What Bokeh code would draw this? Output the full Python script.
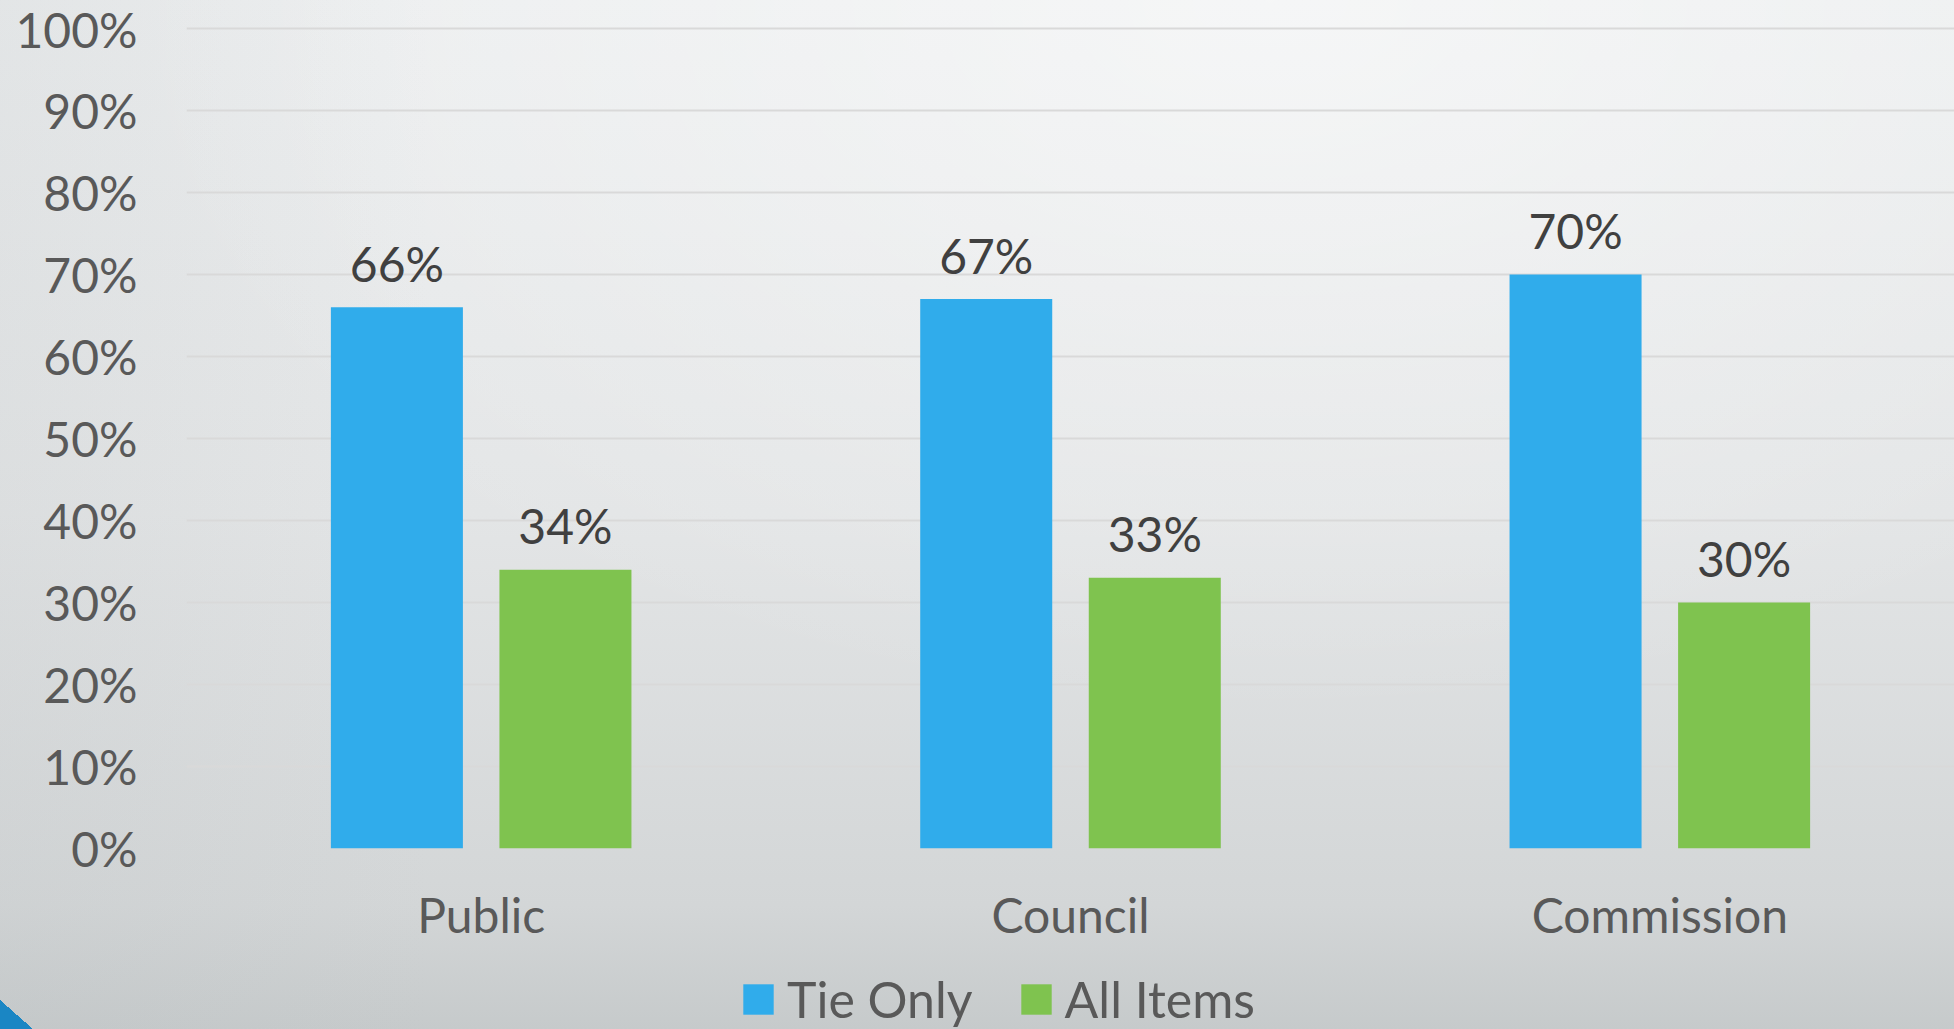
from bokeh.plotting import figure
from bokeh.layouts import column
from bokeh.models import (ColumnDataSource, FactorRange, Range1d, NumeralTickFormatter,
                          FixedTicker, Legend, LegendItem)
from bokeh.transform import dodge
from bokeh.core.properties import value
from bokeh.embed import file_html
from bokeh.resources import INLINE

# ---- data ----
categories = ["Public", "Council", "Commission"]
tie_only = [0.66, 0.67, 0.70]
all_items = [0.34, 0.33, 0.30]
series_names = ["Tie Only", "All Items"]
y_ticks = [0.0, 0.1, 0.2, 0.3, 0.4, 0.5, 0.6, 0.7, 0.8, 0.9, 1.0]

BLUE = "#30ACEB"
GREEN = "#7FC34F"
FONT = "Lato"

src = ColumnDataSource(dict(
    cat=categories,
    tie=tie_only,
    allv=all_items,
    tie_lbl=[f"{round(v * 100)}%" for v in tie_only],
    all_lbl=[f"{round(v * 100)}%" for v in all_items],
))

bg = ("linear-gradient(to top right, #1a86c4 50%, rgba(26,134,196,0) 50%) 0 100% / 33px 29px no-repeat, "
      "linear-gradient(to right, rgba(185,190,192,0.18) 0%, rgba(185,190,192,0) 22%), "
      "radial-gradient(ellipse 60% 70% at 65% 0%, rgba(255,255,255,0.5) 0%, rgba(255,255,255,0) 100%), "
      "linear-gradient(to bottom, #eceeef 0%, #e3e5e6 50%, #d3d6d7 88%, #c6cacb 100%)")

p = figure(x_range=FactorRange(factors=categories), y_range=Range1d(0, 1.034),
           width=1954, height=969, output_backend="svg", toolbar_location=None,
           min_border_left=186, min_border_right=0, min_border_top=0, min_border_bottom=121)
p.border_fill_color = None
p.background_fill_color = None
p.outline_line_color = None

# axes
p.xaxis.axis_line_color = None
p.xaxis.major_tick_line_color = None
p.xaxis.minor_tick_line_color = None
p.xaxis.major_label_text_font = FONT
p.xaxis.major_label_text_font_size = "48px"
p.xaxis.major_label_text_color = "#595959"
p.xaxis.major_label_standoff = 31

p.yaxis.ticker = FixedTicker(ticks=y_ticks)
p.yaxis.formatter = NumeralTickFormatter(format="0%")
p.yaxis.axis_line_color = None
p.yaxis.major_tick_line_color = None
p.yaxis.minor_tick_line_color = None
p.yaxis.major_label_text_font = FONT
p.yaxis.major_label_text_font_size = "48px"
p.yaxis.major_label_text_color = "#595959"
p.yaxis.major_label_standoff = 43

p.xgrid.grid_line_color = None
p.ygrid.ticker = FixedTicker(ticks=y_ticks)
p.ygrid.grid_line_color = "#d9d9d9"
p.ygrid.grid_line_width = 2

# bars
p.vbar(x=dodge("cat", -0.143, range=p.x_range), top="tie", width=0.224, source=src,
       fill_color=BLUE, line_color=None)
p.vbar(x=dodge("cat", 0.143, range=p.x_range), top="allv", width=0.224, source=src,
       fill_color=GREEN, line_color=None)

# data labels
for off, col, lbl in [(-0.143, "tie", "tie_lbl"), (0.143, "allv", "all_lbl")]:
    p.text(x=dodge("cat", off, range=p.x_range), y=col, text=lbl, source=src,
           text_align="center", text_baseline="alphabetic", y_offset=-44,
           text_font=value(FONT), text_font_size="48px", text_color="#404040")

# ---- legend strip (separate figure so it can sit below the axis labels) ----
p2 = figure(width=1954, height=60, x_range=p.x_range, y_range=Range1d(-2, -1),
            x_axis_type=None, y_axis_type=None, output_backend="svg", toolbar_location=None,
            min_border=0)
p2.border_fill_color = None
p2.background_fill_color = None
p2.outline_line_color = None
# same series, not drawn here; used only for the legend keys
k1 = p2.vbar(x=dodge("cat", -0.143, range=p.x_range), top="tie", width=0.224, source=src,
             fill_color=BLUE, line_color=None, visible=False)
k2 = p2.vbar(x=dodge("cat", 0.143, range=p.x_range), top="allv", width=0.224, source=src,
             fill_color=GREEN, line_color=None, visible=False)

legend = Legend(items=[LegendItem(label=series_names[0], renderers=[k1]),
                       LegendItem(label=series_names[1], renderers=[k2])],
                orientation="horizontal", location=(553, 0),
                glyph_width=38, glyph_height=38, label_standoff=10, spacing=44,
                padding=0, margin=0, background_fill_alpha=0, border_line_alpha=0,
                inactive_fill_alpha=0,
                label_text_font=FONT, label_text_font_size="50px",
                label_text_color="#595959")
p2.add_layout(legend)

layout = column(p, p2, spacing=0)
layout.styles = {"background": bg}

open("out.html", "w").write(file_html(layout, INLINE))
